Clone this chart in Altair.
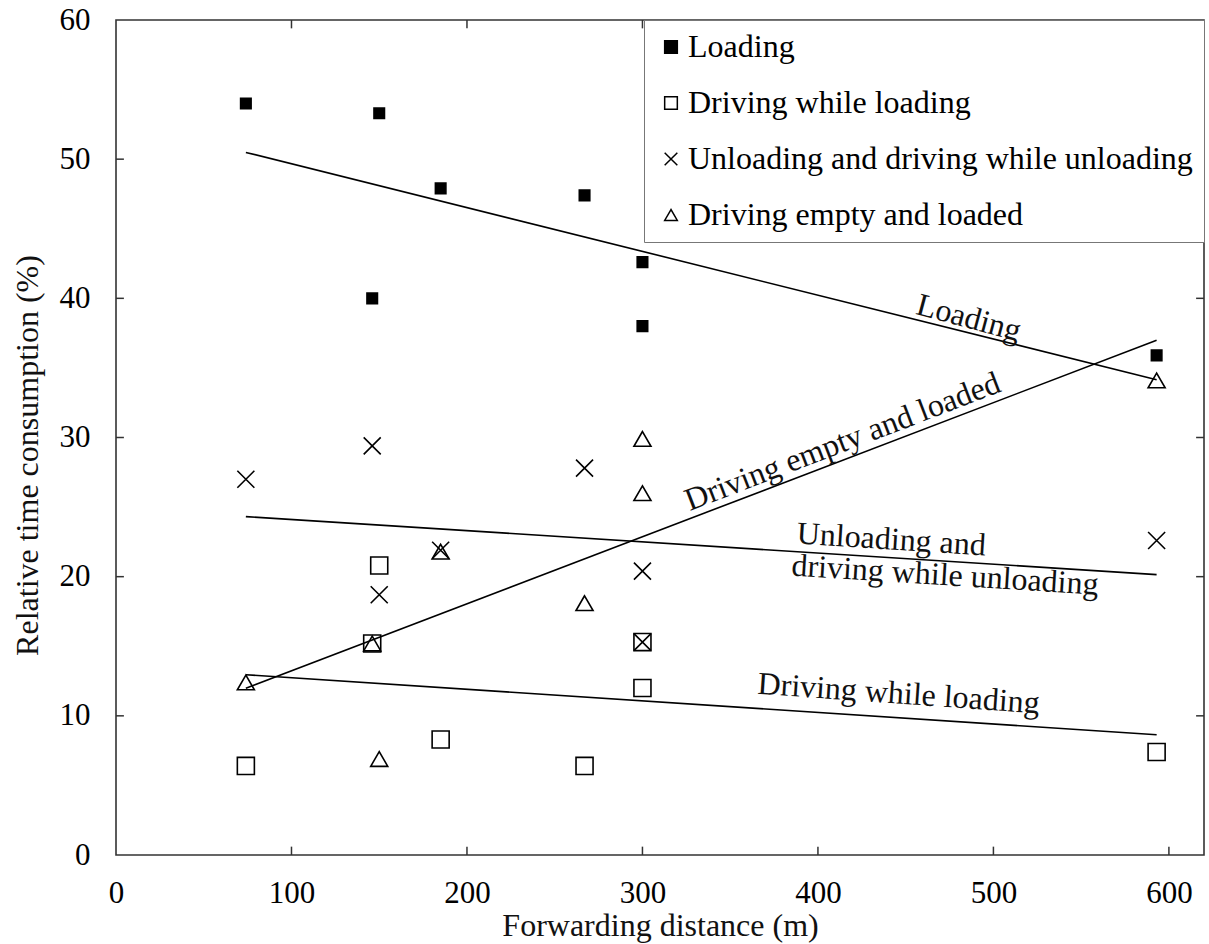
import altair as alt
import pandas as pd

# ---- data ----
distance = [74, 146, 150, 185, 267, 300, 300, 593]
loading = [54.0, 40.0, 53.3, 47.9, 47.4, 42.6, 38.0, 35.9]
driving_while_loading = [6.4, 15.2, 20.8, 8.3, 6.4, 12.0, 15.3, 7.4]
unloading = [27.0, 29.4, 18.7, 21.9, 27.8, 20.4, 15.3, 22.6]
driving_empty = [12.4, 15.2, 6.9, 21.8, 18.1, 29.9, 26.0, 34.1]

series_names = [
    "Loading",
    "Driving while loading",
    "Unloading and driving while unloading",
    "Driving empty and loaded",
]

x_tick_values = [0, 100, 200, 300, 400, 500, 600]
y_tick_values = [0, 10, 20, 30, 40, 50, 60]

annot_loading = ["Loading", 486, 38.6]
annot_empty = ["Driving empty and loaded", 414, 29.7]
annot_unl1 = ["Unloading and", 388, 23.1]
annot_unl2 = ["driving while unloading", 385, 20.8]
annot_dwl = ["Driving while loading", 446, 11.6]

# ---- build tables ----
rows = []
for name, vals in zip(series_names, [loading, driving_while_loading, unloading, driving_empty]):
    for d, v in zip(distance, vals):
        rows.append({"distance": d, "pct": v, "series": name})
df = pd.DataFrame(rows)

FONT = "Liberation Serif"
FS = 32
LFS = 31
X_MAX = 620
Y_MAX = 60

x_scale = alt.Scale(domain=[0, X_MAX], nice=False, zero=False)
y_scale = alt.Scale(domain=[0, Y_MAX], nice=False, zero=False)

x_axis = alt.Axis(
    title="Forwarding distance (m)", values=x_tick_values, tickSize=0, domain=False,
    grid=False, labelPadding=23, titlePadding=2, labelFontSize=LFS, titleFontSize=FS,
    labelFont=FONT, titleFont=FONT, labelColor="black", titleColor="#111",
    titleFontWeight="normal", labelFlush=False, labelOverlap=False,
)
y_axis = alt.Axis(
    title="Relative time consumption (%)", values=y_tick_values, tickSize=0, domain=False,
    grid=False, labelPadding=26, titlePadding=15, labelFontSize=LFS, titleFontSize=FS,
    labelFont=FONT, titleFont=FONT, labelColor="black", titleColor="#111",
    titleFontWeight="normal", labelFlush=False, labelOverlap=False, titleY=435,
)

XPATH = "M-1,-1L1,1M-1,1L1,-1"

legend = alt.Legend(
    title=None, orient="top-right", offset=0, padding=11, strokeColor="#777",
    fillColor="white", labelFont=FONT, labelFontSize=FS, labelColor="black",
    symbolStrokeColor="black", symbolStrokeWidth=1.5, symbolSize=160,
    symbolOffset=0, rowPadding=24, labelOffset=1, labelLimit=0, cornerRadius=0,
)

shape_scale = alt.Scale(domain=series_names, range=["square", "square", XPATH, "triangle-up"])
fill_scale = alt.Scale(domain=series_names, range=["black", "transparent", "transparent", "transparent"])
stroke_scale = alt.Scale(domain=series_names, range=["black", "black", "black", "black"])

X = alt.X("distance:Q", scale=x_scale, axis=x_axis)
Y = alt.Y("pct:Q", scale=y_scale, axis=y_axis)


def point_layer(names, size):
    return alt.Chart(df).transform_filter(
        alt.FieldOneOfPredicate(field="series", oneOf=names)
    ).mark_point(filled=True, strokeWidth=1.6, opacity=1, size=size).encode(
        x=X, y=Y,
        shape=alt.Shape("series:N", scale=shape_scale, legend=legend),
        fill=alt.Fill("series:N", scale=fill_scale, legend=legend),
        stroke=alt.Stroke("series:N", scale=stroke_scale, legend=legend),
    )


pts_loading = point_layer(["Loading"], 110)
pts_open = point_layer(series_names[1:], 290)

lines = alt.Chart(df).transform_regression(
    "distance", "pct", groupby=["series"]
).mark_line(color="black", strokeWidth=1.6).encode(
    x=X, y=Y, detail="series:N",
)

# inward ticks on all four sides
tick_len_y = 0.6
tick_len_x = 4.5
xt = [v for v in x_tick_values if 0 < v < X_MAX]
yt = [v for v in y_tick_values if 0 < v < Y_MAX]
bottom = pd.DataFrame({"distance": xt, "pct": [0] * len(xt), "b": [tick_len_y] * len(xt)})
top = pd.DataFrame({"distance": xt, "pct": [Y_MAX] * len(xt), "b": [Y_MAX - tick_len_y] * len(xt)})
left = pd.DataFrame({"pct": yt, "distance": [0] * len(yt), "b": [tick_len_x] * len(yt)})
right = pd.DataFrame({"pct": yt, "distance": [X_MAX] * len(yt), "b": [X_MAX - tick_len_x] * len(yt)})


def xticks(d):
    return alt.Chart(d).mark_rule(color="#333", strokeWidth=1.5).encode(x=X, y=Y, y2="b:Q")


def yticks(d):
    return alt.Chart(d).mark_rule(color="#333", strokeWidth=1.5).encode(x=X, x2="b:Q", y=Y)


def annot(a, angle, align="center"):
    d = pd.DataFrame({"label": [a[0]], "distance": [a[1]], "pct": [a[2]]})
    return alt.Chart(d).mark_text(
        font=FONT, fontSize=FS, color="#111", angle=angle, align=align, baseline="middle"
    ).encode(x=X, y=Y, text="label:N")


texts = [
    annot(annot_loading, 15),
    annot(annot_empty, 339),
    annot(annot_unl1, 3.6, "left"),
    annot(annot_unl2, 3.6, "left"),
    annot(annot_dwl, 4),
]

chart = alt.layer(
    lines, xticks(bottom), xticks(top), yticks(left), yticks(right), *texts, pts_open, pts_loading
).properties(
    width=1088, height=835,
    background="white",
    autosize=alt.AutoSizeParams(type="none"),
    padding={"left": 116, "top": 20, "right": 5, "bottom": 89},
).configure_view(
    stroke="#333", strokeWidth=1.6
)

chart.save("out.html", embed_options={"renderer": "svg", "actions": False})
